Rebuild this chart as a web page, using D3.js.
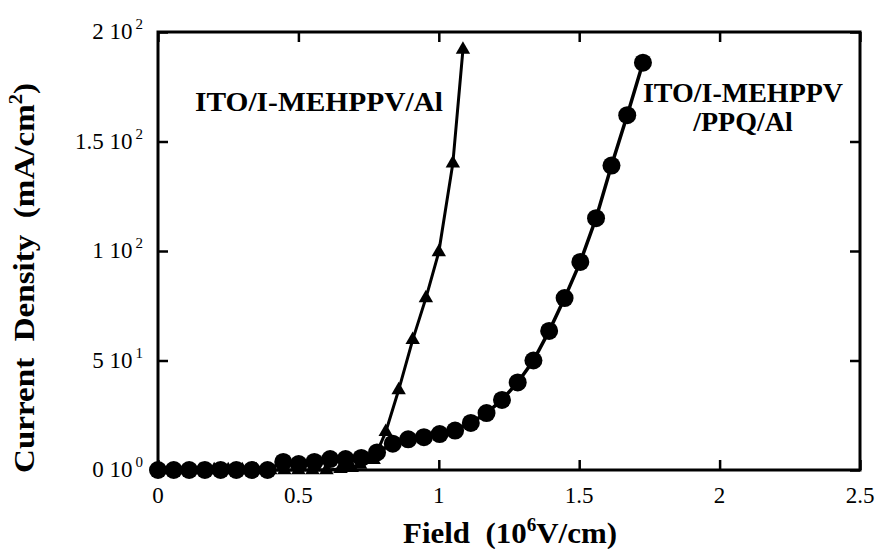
<!DOCTYPE html>
<html>
<head>
<meta charset="utf-8">
<script src="https://cdn.jsdelivr.net/npm/d3@7"></script>
<style>
  body { margin: 0; background: #fff; }
  text { font-family: "Liberation Serif", "Times New Roman", serif; fill: #000; }
</style>
</head>
<body>
<svg id="chart" width="876" height="549"></svg>
<script>
// current density vs field, two device structures

let width = 876, height = 549

var fieldTicks = [0, 0.5, 1, 1.5, 2, 2.5]
var fieldTickLabels = ['0', '0.5', '1', '1.5', '2', '2.5']
var densityTicks = [0, 50, 100, 150, 200]
var densityMantissa = ['0', '5', '1', '1.5', '2']
var densityExponent = ['0', '1', '2', '2', '2']

// ITO/I-MEHPPV/PPQ/Al  (circles)
var circleField = [0, 0.056, 0.111, 0.167, 0.223, 0.279, 0.334, 0.390, 0.446, 0.501,
    0.557, 0.613, 0.668, 0.724, 0.780, 0.836, 0.891, 0.947, 1.003, 1.058,
    1.114, 1.170, 1.225, 1.281, 1.337, 1.393, 1.448, 1.504, 1.560, 1.615,
    1.671, 1.727]
var circleDensity = [0, 0, 0, 0, 0, 0, 0, 0, 3.7, 2.7,
    3.7, 5, 5, 5.5, 8, 12, 14, 15, 16.4, 18,
    21.5, 26, 32, 40, 50, 63.5, 78.5, 95, 115, 139,
    162, 186]

// ITO/I-MEHPPV/Al  (triangles)
var triField = [0, 0.05, 0.10, 0.15, 0.20, 0.25, 0.30, 0.35, 0.40, 0.45,
    0.50, 0.55, 0.60, 0.65, 0.69, 0.72, 0.768, 0.811, 0.857, 0.907,
    0.954, 1.0, 1.05, 1.086]
var triDensity = [0, 0, 0, 0, 0, 0, 0, 0, 0, 0,
    0, 0, 0, 0.5, 1, 2.5, 4.6, 17.4, 36.5, 59.4,
    78.5, 99.5, 140, 192]

var plotLeft = 158, plotRight = 860, plotTop = 32, plotBottom = 470

var x = d3.scaleLinear().domain([0, 2.5]).range([plotLeft, plotRight])
var y = d3.scaleLinear().domain([0, 200]).range([plotBottom, plotTop])

var svg = d3.select('#chart')

// ticks on all four sides, pointing inward
svg.append('g').attr('transform', `translate(0,${plotBottom})`)
    .call(d3.axisBottom(x).tickValues(fieldTicks).tickSize(-10).tickFormat(''))
svg.append('g').attr('transform', `translate(0,${plotTop})`)
    .call(d3.axisTop(x).tickValues(fieldTicks).tickSize(-10).tickFormat(''))
svg.append('g').attr('transform', `translate(${plotLeft},0)`)
    .call(d3.axisLeft(y).tickValues(densityTicks).tickSize(-10).tickFormat(''))
svg.append('g').attr('transform', `translate(${plotRight},0)`)
    .call(d3.axisRight(y).tickValues(densityTicks).tickSize(-10).tickFormat(''))

svg.selectAll('.domain').remove()
svg.selectAll('.tick line').attr('stroke', '#000').attr('stroke-width', 2.5)

// frame
svg.append('rect')
    .attr('x', plotLeft).attr('y', plotTop)
    .attr('width', plotRight - plotLeft).attr('height', plotBottom - plotTop)
    .attr('fill', 'none').attr('stroke', '#000').attr('stroke-width', 3)

// x tick labels
svg.append('g').selectAll('text')
    .data(fieldTicks)
    .enter().append('text')
    .attr('x', d => x(d))
    .attr('y', 503)
    .attr('text-anchor', 'middle')
    .attr('font-size', 23)
    .text((d, i) => fieldTickLabels[i])

// y tick labels like "1.5 10^2"
var yl = svg.append('g').selectAll('text')
    .data(densityTicks)
    .enter().append('text')
    .attr('x', 143)
    .attr('y', d => y(d) + 7)
    .attr('text-anchor', 'end')
    .attr('font-size', 23)
yl.append('tspan').text((d, i) => densityMantissa[i] + ' 10')
yl.append('tspan').attr('dy', -10).attr('dx', 3).attr('font-size', 15)
    .text((d, i) => densityExponent[i])

var line = d3.line().x(d => x(d[0])).y(d => y(d[1]))

var triPts = triField.map((f, i) => [f, triDensity[i]])
var circPts = circleField.map((f, i) => [f, circleDensity[i]])

svg.append('path').datum(triPts)
    .attr('d', line).attr('fill', 'none')
    .attr('stroke', '#000').attr('stroke-width', 3)
svg.append('g').selectAll('path')
    .data(triPts)
    .enter().append('path')
    .attr('d', d3.symbol(d3.symbolTriangle).size(90))
    .attr('transform', d => `translate(${x(d[0])},${y(d[1])})`)
    .attr('fill', '#000')

svg.append('path').datum(circPts)
    .attr('d', line).attr('fill', 'none')
    .attr('stroke', '#000').attr('stroke-width', 3.5)
svg.append('g').selectAll('circle')
    .data(circPts)
    .enter().append('circle')
    .attr('cx', d => x(d[0]))
    .attr('cy', d => y(d[1]))
    .attr('r', 9)
    .attr('fill', '#000')

// series labels
svg.append('text')
    .attr('x', 195).attr('y', 111)
    .attr('font-size', 28).attr('font-weight', 'bold')
    .attr('textLength', 248).attr('lengthAdjust', 'spacingAndGlyphs')
    .text('ITO/I-MEHPPV/Al')
svg.append('text')
    .attr('x', 743).attr('y', 102)
    .attr('text-anchor', 'middle')
    .attr('font-size', 28).attr('font-weight', 'bold')
    .text('ITO/I-MEHPPV')
svg.append('text')
    .attr('x', 743).attr('y', 131)
    .attr('text-anchor', 'middle')
    .attr('font-size', 28).attr('font-weight', 'bold')
    .text('/PPQ/Al')

// axis titles
var xt = svg.append('text')
    .attr('x', 403).attr('y', 543)
    .attr('font-size', 29).attr('font-weight', 'bold')
    .attr('textLength', 214).attr('lengthAdjust', 'spacingAndGlyphs')
xt.append('tspan').text('Field\u00a0\u00a0(10')
xt.append('tspan').attr('dy', -12).attr('font-size', 18).text('6')
xt.append('tspan').attr('dy', 12).text('V/cm)')

var yt = svg.append('text')
    .attr('transform', 'translate(34,473) rotate(-90)')
    .attr('font-size', 29).attr('font-weight', 'bold')
    .attr('textLength', 390).attr('lengthAdjust', 'spacingAndGlyphs')
yt.append('tspan').text('Current\u00a0\u00a0Density\u00a0\u00a0(mA/cm')
yt.append('tspan').attr('dy', -12).attr('font-size', 18).text('2')
yt.append('tspan').attr('dy', 12).text(')')
</script>
</body>
</html>
